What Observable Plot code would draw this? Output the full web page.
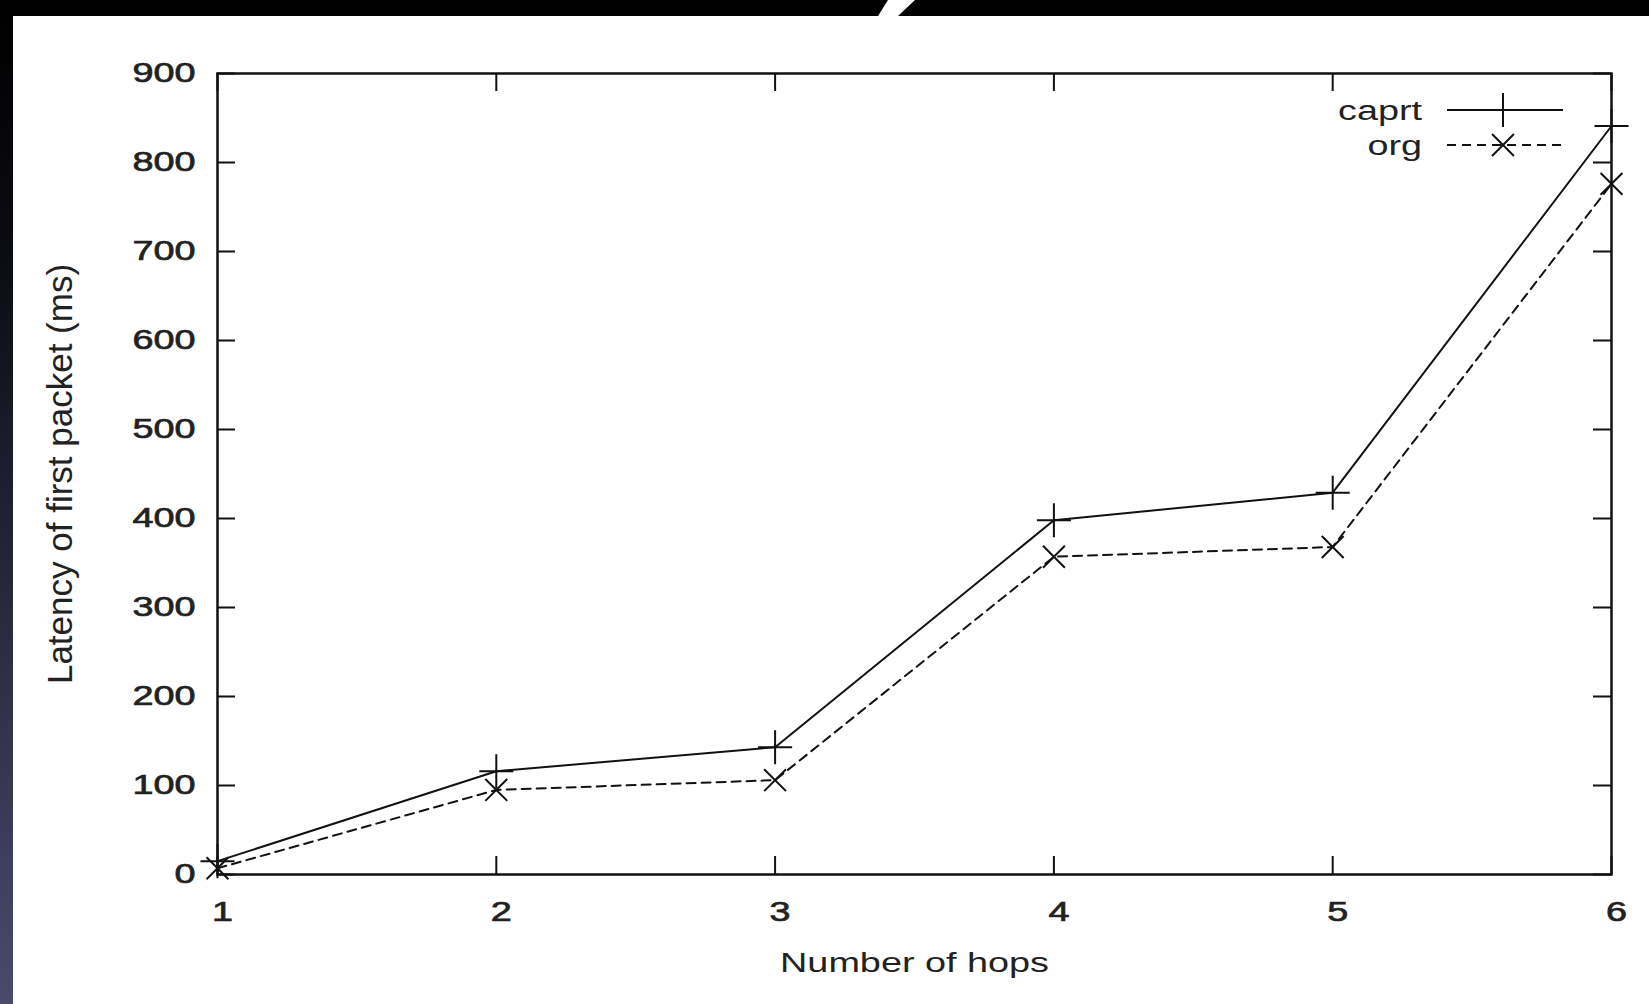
<!DOCTYPE html>
<html>
<head>
<meta charset="utf-8">
<script src="https://cdn.jsdelivr.net/npm/d3@7"></script>
<script src="https://cdn.jsdelivr.net/npm/@observablehq/plot@0.6"></script>
<style>
  html, body { margin: 0; padding: 0; background: #fff; }
  #wrap { position: relative; width: 1649px; height: 1004px; overflow: hidden; background: #fff; }
  #chart { position: absolute; left: 0; top: 0; }
  /* dark slide border along the top and left edges */
  #band-top { position: absolute; left: 0; top: 0; width: 1649px; height: 16px; background: #000; }
  #band-left { position: absolute; left: 0; top: 0; width: 13px; height: 1004px;
    background: linear-gradient(#000 0%, #0b0b12 25%, #28283e 60%, #4a4a6e 100%); }
  #slash { position: absolute; left: 878px; top: 0; width: 37px; height: 16px; background: #fff;
    clip-path: polygon(10px 0, 37px 0, 20px 16px, 0 16px); }
</style>
</head>
<body>
<div id="wrap">
  <div id="chart"></div>
  <div id="band-top"></div>
  <div id="slash"></div>
  <div id="band-left"></div>
</div>
<script>
// Latency of the first packet versus number of hops
const hops = [1, 2, 3, 4, 5, 6];
const caprt = [15, 116, 143, 398, 429, 841];
const org = [7, 95, 106, 357, 368, 776];
const seriesNames = ["caprt", "org"];
const xTicks = [1, 2, 3, 4, 5, 6];
const yTicks = [0, 100, 200, 300, 400, 500, 600, 700, 800, 900];
const xLabel = "Number of hops";
const yLabel = "Latency of first packet (ms)";

const rows = hops.flatMap((h, i) => [
  {hops: h, latency: caprt[i], series: "caprt"},
  {hops: h, latency: org[i], series: "org"}
]);

const W = 1649, H = 1004;
const mL = 217, mR = 38, mT = 73, mB = 130;
const innerW = W - mL - mR, innerH = H - mT - mB;
const TICK = 18;          // inward tick length
const STRETCH = 1.35;     // wide lettering of the horizontal text
const INK = "#111";
const TEXT = "#222";
const dashes = {caprt: null, org: "9,6"};
const symbols = {caprt: d3.symbolPlus, org: d3.symbolTimes};
const radii = {caprt: 11, org: 10};

// key in the upper-right corner of the frame
function key(index, scales, values, dimensions) {
  const right = dimensions.width - dimensions.marginRight;
  const g = d3.create("svg:g");
  seriesNames.forEach((name, i) => {
    const y = dimensions.marginTop + 37 + i * 35;
    g.append("text")
      .attr("transform", `translate(${right - 189},${y}) scale(${STRETCH},1)`)
      .attr("text-anchor", "end")
      .attr("dy", "0.35em")
      .attr("fill", TEXT)
      .attr("font-size", 28)
      .text(name);
    g.append("line")
      .attr("x1", right - 164).attr("x2", right - 48)
      .attr("y1", y).attr("y2", y)
      .attr("stroke", INK).attr("stroke-width", 2)
      .attr("stroke-dasharray", dashes[name]);
    g.append("path")
      .attr("d", d3.symbol(symbols[name], Math.PI * radii[name] ** 2)())
      .attr("transform", `translate(${right - 108},${y})`)
      .attr("fill", "none").attr("stroke", INK).attr("stroke-width", 2);
  });
  return g.node();
}

const chart = Plot.plot({
  width: W, height: H,
  marginLeft: mL, marginRight: mR, marginTop: mT, marginBottom: mB,
  style: {fontFamily: "'Liberation Sans', Arial, sans-serif", fontSize: "28px", color: TEXT, background: "transparent"},
  x: {domain: [1, 6]},
  y: {domain: [0, 900]},
  marks: [
    Plot.axisX(xTicks, {tickSize: 0, tickPadding: 27, dx: 5, tickFormat: "d", label: null, fontSize: 28, fill: TEXT}),
    Plot.axisY(yTicks, {tickSize: 0, tickPadding: 22, tickFormat: "d", label: null, fontSize: 28, fill: TEXT}),
    Plot.text([xLabel], {frameAnchor: "bottom", dy: 89, text: d => d, textAnchor: "middle", lineAnchor: "middle", fontSize: 28, fill: TEXT}),
    Plot.text([yLabel], {frameAnchor: "left", dx: -157, rotate: -90, text: d => d, textAnchor: "middle", lineAnchor: "middle", fontSize: 35, fill: TEXT}),
    // inward ticks on all four sides
    Plot.tickX(xTicks, {x: d => d, insetTop: innerH - TICK, stroke: INK, strokeWidth: 2}),
    Plot.tickX(xTicks, {x: d => d, insetBottom: innerH - TICK, stroke: INK, strokeWidth: 2}),
    Plot.tickY(yTicks, {y: d => d, insetRight: innerW - TICK, stroke: INK, strokeWidth: 2}),
    Plot.tickY(yTicks, {y: d => d, insetLeft: innerW - TICK, stroke: INK, strokeWidth: 2}),
    Plot.frame({stroke: INK, strokeWidth: 2.5}),
    ...seriesNames.map(name => Plot.line(rows.filter(d => d.series === name), {
      x: "hops", y: "latency", stroke: INK, strokeWidth: 2, strokeDasharray: dashes[name]
    })),
    ...seriesNames.map(name => Plot.dot(rows.filter(d => d.series === name), {
      x: "hops", y: "latency", symbol: () => name === "caprt" ? "plus" : "times",
      r: radii[name], fill: "none", stroke: INK, strokeWidth: 2
    })),
    key
  ]
});

// widen horizontal lettering around each label's own anchor
d3.select(chart).selectAll("text").each(function () {
  const t = this.getAttribute("transform") || "";
  if (!t || t.includes("rotate") || t.includes("scale")) return;
  this.setAttribute("transform", `${t} scale(${STRETCH},1)`);
});
// heavier tick numerals
d3.select(chart).selectAll('g[aria-label$="tick label"] text')
  .attr("stroke", TEXT).attr("stroke-width", 0.7);

document.getElementById("chart").appendChild(chart);
</script>
</body>
</html>
